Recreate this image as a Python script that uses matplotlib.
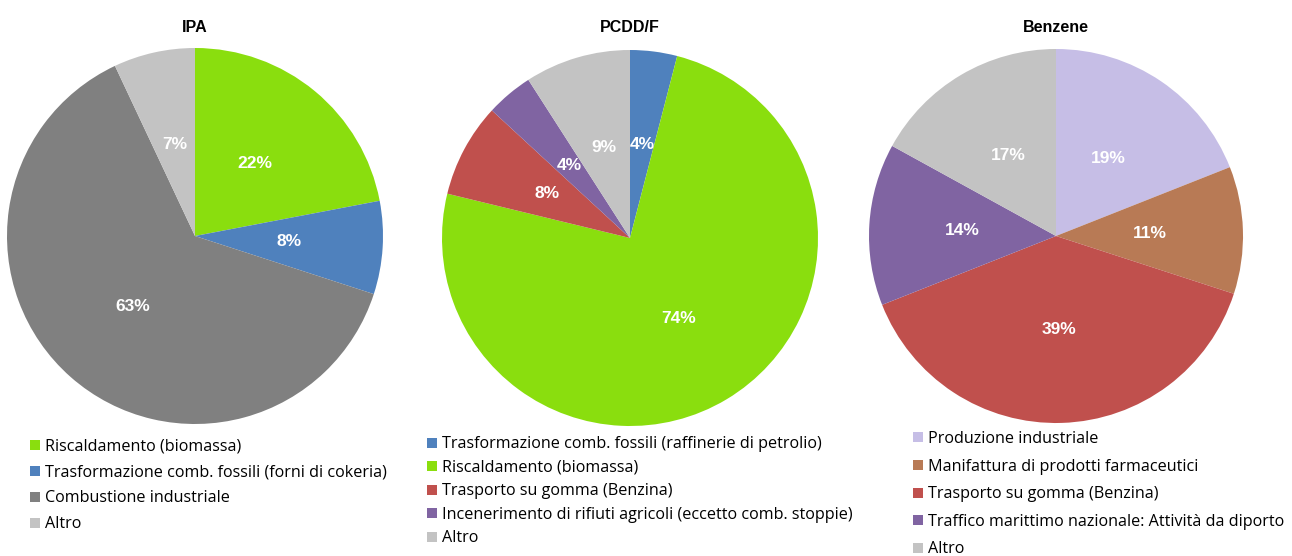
import numpy as np
import matplotlib

matplotlib.use("Agg")
import matplotlib.pyplot as plt
from matplotlib.lines import Line2D

# --- data -------------------------------------------------------------------
ipa_labels = [
    "Riscaldamento (biomassa)",
    "Trasformazione comb. fossili (forni di cokeria)",
    "Combustione industriale",
    "Altro",
]
ipa_values = [22, 8, 63, 7]
ipa_colors = ["#8ADE0E", "#4F81BD", "#808080", "#C3C3C3"]

pcdd_labels = [
    "Trasformazione comb. fossili (raffinerie di petrolio)",
    "Riscaldamento (biomassa)",
    "Trasporto su gomma (Benzina)",
    "Incenerimento di rifiuti agricoli (eccetto comb. stoppie)",
    "Altro",
]
pcdd_values = [4, 74, 8, 4, 9]
pcdd_colors = ["#4F81BD", "#8ADE0E", "#C0504D", "#8064A2", "#C3C3C3"]

benz_labels = [
    "Produzione industriale",
    "Manifattura di prodotti farmaceutici",
    "Trasporto su gomma (Benzina)",
    "Traffico marittimo nazionale: Attività da diporto",
    "Altro",
]
benz_values = [19, 11, 39, 14, 17]
benz_colors = ["#C6BEE6", "#B87A55", "#C0504D", "#8064A2", "#C3C3C3"]

W, H = 1292, 556
fig = plt.figure(figsize=(W / 100, H / 100), dpi=100)
fig.patch.set_facecolor("white")

panels = [
    # title, labels, values, colors, centre (px), radius, legend anchor, spacing
    ("IPA", ipa_labels, ipa_values, ipa_colors, (195, 236), 188, (28.5, 438.5), 0.62),
    ("PCDD/F", pcdd_labels, pcdd_values, pcdd_colors, (630, 238), 188, (425.5, 436.5), 0.46),
    ("Benzene", benz_labels, benz_values, benz_colors, (1056, 236), 187, (911.5, 431), 0.72),
]

for title, labels, values, colors, (cx, cy), r, (lx, ly), spacing in panels:
    ax = fig.add_axes([(cx - r) / W, (H - cy - r) / H, 2 * r / W, 2 * r / H])
    wedges, _ = ax.pie(
        values,
        colors=colors,
        startangle=90,
        counterclock=False,
        normalize=True,
        wedgeprops=dict(linewidth=0),
    )
    ax.set_xlim(-1, 1)
    ax.set_ylim(-1, 1)

    # percentage labels at half radius, in the middle of each wedge
    for w, v in zip(wedges, values):
        ang = np.deg2rad((w.theta1 + w.theta2) / 2)
        ax.text(0.5 * np.cos(ang), 0.5 * np.sin(ang), f"{v}%",
                ha="center", va="center", color="white", fontsize=12.5,
                fontweight="bold", family="Liberation Sans")

    fig.text(cx / W, 1 - 28 / H, title, ha="center", va="center",
             fontsize=11.5, fontweight="bold", family="Liberation Sans")

    handles = [Line2D([], [], marker="s", linestyle="none", markersize=7.5,
                      markerfacecolor=c, markeredgewidth=0) for c in colors]
    fig.legend(handles, labels, loc="upper left",
               bbox_to_anchor=(lx / W, 1 - ly / H), frameon=False,
               prop=dict(family="Open Sans", size=11.6), handlelength=0.8,
               handletextpad=0.22, labelspacing=spacing, borderpad=0,
               borderaxespad=0)

fig.savefig("out.png", dpi=100)
